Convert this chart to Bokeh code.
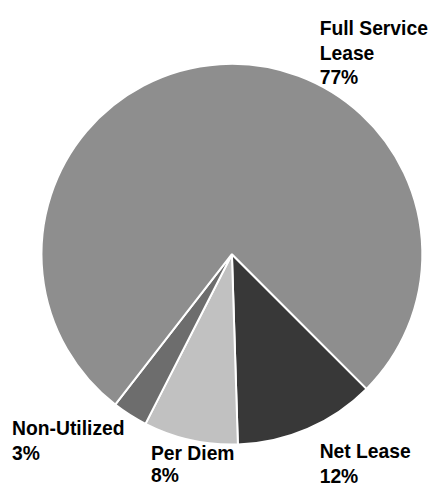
import math
from bokeh.plotting import figure
from bokeh.models import ColumnDataSource
from bokeh.core.properties import value
from bokeh.embed import file_html
from bokeh.resources import INLINE

# ---- data ----
categories = ["Net Lease", "Per Diem", "Non-Utilized", "Full Service Lease"]
shares = [12, 8, 3, 77]
colors = ["#383838", "#c1c1c1", "#6d6d6d", "#8e8e8e"]

# ---- layout (data space mirrors a 447x504 canvas, y up) ----
W, H = 431, 488
VW, VH = 447, 504
cx, cy, r = 240, 242, 197.5
first_angle_deg = 135  # clockwise from 12 o'clock
label_lines = [["Net Lease", "12%"], ["Per Diem", "8%"], ["Non-Utilized", "3%"], ["Full Service", "Lease", "77%"]]
label_xy = [(331, 38), (156, 36), (12, 62), (331, 475)]  # first-line baseline
label_gap = [25.5, 23, 25.5, 25.5]
font_px = 20 * W / VW

total = float(sum(shares))
start0 = math.radians(90 - first_angle_deg)
starts, ends = [], []
acc = 0.0
for s in shares:
    starts.append(start0 - 2 * math.pi * acc / total)
    acc += s
    ends.append(start0 - 2 * math.pi * acc / total)

src = ColumnDataSource(dict(cat=categories, share=shares, color=colors, start=starts, end=ends,
                            x=[cx] * 4, y=[cy] * 4))

p = figure(width=W, height=H, x_range=(0, VW), y_range=(0, VH), output_backend="svg",
           toolbar_location=None, min_border=0, outline_line_color=None)
p.axis.visible = False
p.grid.visible = False

p.wedge(x="x", y="y", radius=r, start_angle="start", end_angle="end", direction="clock",
        fill_color="color", line_color="white", line_width=2, source=src)

tx, ty, tt = [], [], []
for lines, (lx, ly), gap in zip(label_lines, label_xy, label_gap):
    for i, t in enumerate(lines):
        tx.append(lx)
        ty.append(ly - i * gap)
        tt.append(t)

p.text(x=tx, y=ty, text=tt, text_font=value("Liberation Sans"), text_font_style="bold",
       text_font_size=f"{font_px:.1f}px", text_color="#000000", text_baseline="alphabetic",
       text_align="left")

open("out.html", "w").write(file_html(p, INLINE))
